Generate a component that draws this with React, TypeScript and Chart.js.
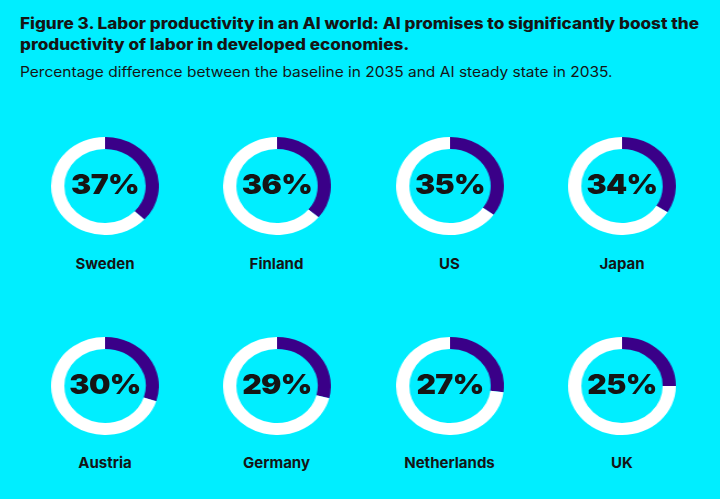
import React, { useEffect, useRef } from "react";
import { Chart, registerables } from "chart.js";

Chart.register(...registerables);

const countries = ["Sweden", "Finland", "US", "Japan", "Austria", "Germany", "Netherlands", "UK"];
const uplift = [37, 36, 35, 34, 30, 29, 27, 25];
const valueLabels = ["37%", "36%", "35%", "34%", "30%", "29%", "27%", "25%"];

const BG = "#00eeff";
const PURPLE = "#3a0088";
const WHITE = "#ffffff";
const INK = "#151515";

const COL_X = [105, 276.5, 449.5, 622];
const ROW_Y = [185.5, 385.5];
const LABEL_Y = [264, 463];
const SIZE = 98;

function Donut({ value, label }: { value: number; label: string }) {
  const ref = useRef<HTMLCanvasElement | null>(null);
  useEffect(() => {
    if (!ref.current) return;
    const chart = new Chart(ref.current, {
      type: "doughnut",
      data: {
        labels: ["AI uplift", "Rest"],
        datasets: [
          {
            data: [value, 100 - value],
            backgroundColor: [PURPLE, WHITE],
            borderWidth: 0,
          },
        ],
      },
      options: {
        responsive: false,
        animation: false,
        cutout: "75.5%",
        events: [],
        layout: { padding: 0 },
        plugins: { legend: { display: false }, tooltip: { enabled: false } },
      },
    });
    return () => chart.destroy();
  }, [value]);
  return (
    <div style={{ position: "relative", width: SIZE, height: SIZE }}>
      <canvas ref={ref} width={SIZE} height={SIZE} style={{ display: "block" }} />
      <div
        style={{
          position: "absolute",
          left: 0,
          right: 0,
          top: -1,
          bottom: 1,
          display: "flex",
          alignItems: "center",
          justifyContent: "center",
          fontFamily: "Inter, sans-serif",
          fontWeight: 900,
          fontSize: 27.5,
          lineHeight: 1,
          color: INK,
          letterSpacing: "-0.6px",
        }}
      >
        {label}
      </div>
    </div>
  );
}

export default function App() {
  return (
    <div
      style={{
        position: "fixed",
        left: 0,
        top: 0,
        width: 720,
        height: 499,
        background: BG,
        overflow: "hidden",
        color: INK,
      }}
    >
      <div
        style={{
          position: "absolute",
          left: 20,
          top: 13,
          fontFamily: "Inter, sans-serif",
          fontWeight: 800,
          fontSize: 15.6,
          lineHeight: "21px",
          whiteSpace: "nowrap",
          transform: "scaleX(1.1)",
          transformOrigin: "0 0",
        }}
      >
        <div>Figure 3. Labor productivity in an AI world: AI promises to significantly boost the</div>
        <div>productivity of labor in developed economies.</div>
      </div>
      <div
        style={{
          position: "absolute",
          left: 20,
          top: 62,
          fontFamily: "Inter, sans-serif",
          fontWeight: 400,
          fontSize: 14.1,
          lineHeight: "20px",
          whiteSpace: "nowrap",
          transform: "scaleX(1.1)",
          transformOrigin: "0 0",
        }}
      >
        Percentage difference between the baseline in 2035 and AI steady state in 2035.
      </div>
      {countries.map((c, i) => {
        const cx = COL_X[i % 4];
        const row = Math.floor(i / 4);
        const cy = ROW_Y[row];
        return (
          <React.Fragment key={c}>
            <div
              style={{
                position: "absolute",
                left: cx - SIZE / 2,
                top: cy - SIZE / 2,
                width: SIZE,
                height: SIZE,
                transform: "scaleX(1.1)",
                transformOrigin: "50% 50%",
              }}
            >
              <Donut value={uplift[i]} label={valueLabels[i]} />
            </div>
            <div
              style={{
                position: "absolute",
                left: cx - 80,
                width: 160,
                top: LABEL_Y[row] - 10,
                height: 20,
                lineHeight: "20px",
                textAlign: "center",
                fontFamily: "Inter, sans-serif",
                fontWeight: 700,
                fontSize: 15,
              }}
            >
              {c}
            </div>
          </React.Fragment>
        );
      })}
    </div>
  );
}
